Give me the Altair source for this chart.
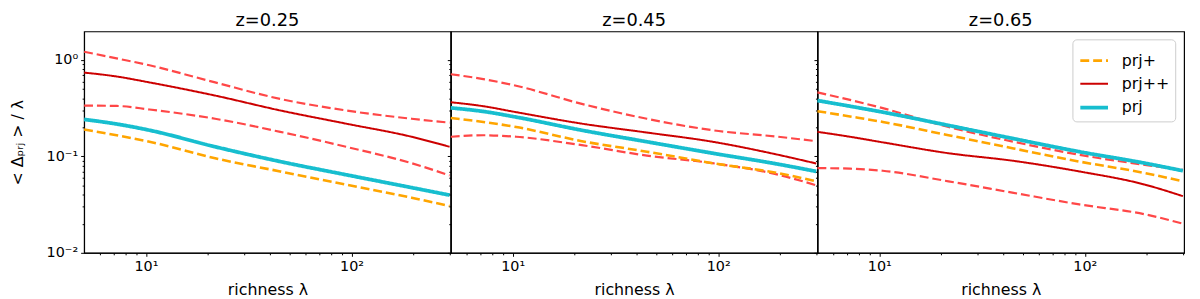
import altair as alt
import pandas as pd

# ---------------- data ----------------
X = [5, 7.2, 10.4, 21.7, 45, 94, 196, 300]
PANELS = ["z=0.25", "z=0.45", "z=0.65"]
SERIES = ["prj+", "prj++", "prj"]

# z = 0.25
P1_PRJ_PLUS = [0.19, 0.166, 0.142, 0.0958, 0.0699, 0.051, 0.0373, 0.0306]
P1_PRJ_PP = [0.741, 0.675, 0.586, 0.428, 0.30, 0.219, 0.16, 0.126]
P1_PRJ = [0.242, 0.217, 0.187, 0.126, 0.0885, 0.0646, 0.0475, 0.0397]
P1_PP_UP = [1.22, 1.04, 0.882, 0.586, 0.395, 0.30, 0.246, 0.224]
P1_PP_LO = [0.337, 0.334, 0.307, 0.246, 0.18, 0.126, 0.0851, 0.0636]

# z = 0.45
P2_PRJ_PLUS = [0.25, 0.228, 0.202, 0.144, 0.112, 0.0851, 0.0672, 0.0552]
P2_PRJ_PP = [0.365, 0.332, 0.288, 0.219, 0.177, 0.142, 0.104, 0.0845]
P2_PRJ = [0.319, 0.293, 0.256, 0.187, 0.142, 0.108, 0.0831, 0.0699]
P2_PP_UP = [0.713, 0.634, 0.541, 0.351, 0.246, 0.187, 0.16, 0.144]
P2_PP_LO = [0.16, 0.166, 0.16, 0.131, 0.102, 0.0851, 0.0646, 0.0502]

# z = 0.65
P3_PRJ_PLUS = [0.295, 0.26, 0.228, 0.166, 0.121, 0.0885, 0.0672, 0.0552]
P3_PRJ_PP = [0.18, 0.16, 0.14, 0.108, 0.09, 0.0699, 0.051, 0.0387]
P3_PRJ = [0.38, 0.332, 0.288, 0.21, 0.153, 0.112, 0.0851, 0.071]
P3_PP_UP = [0.462, 0.386, 0.317, 0.202, 0.142, 0.104, 0.0818, 0.0727]
P3_PP_LO = [0.0757, 0.0747, 0.071, 0.0552, 0.0419, 0.0318, 0.0251, 0.0201]

X_TICKS = [6, 7, 8, 9, 10, 20, 30, 40, 50, 60, 70, 80, 90, 100, 200, 300]
Y_TICKS = [0.01, 0.02, 0.03, 0.04, 0.05, 0.06, 0.07, 0.08, 0.09,
           0.1, 0.2, 0.3, 0.4, 0.5, 0.6, 0.7, 0.8, 0.9, 1]

MAIN = {
    "z=0.25": {"prj+": P1_PRJ_PLUS, "prj++": P1_PRJ_PP, "prj": P1_PRJ},
    "z=0.45": {"prj+": P2_PRJ_PLUS, "prj++": P2_PRJ_PP, "prj": P2_PRJ},
    "z=0.65": {"prj+": P3_PRJ_PLUS, "prj++": P3_PRJ_PP, "prj": P3_PRJ},
}
BOUNDS = {
    "z=0.25": {"upper": P1_PP_UP, "lower": P1_PP_LO},
    "z=0.45": {"upper": P2_PP_UP, "lower": P2_PP_LO},
    "z=0.65": {"upper": P3_PP_UP, "lower": P3_PP_LO},
}

main_rows = []
for p, d in MAIN.items():
    for s, vals in d.items():
        for xv, yv in zip(X, vals):
            main_rows.append({"panel": p, "series": s, "x": xv, "y": yv})
bound_rows = []
for p, d in BOUNDS.items():
    for s, vals in d.items():
        for xv, yv in zip(X, vals):
            bound_rows.append({"panel": p, "bound": s, "x": xv, "y": yv})
main_df = pd.DataFrame(main_rows)
bound_df = pd.DataFrame(bound_rows)

FONT = "DejaVu Sans"

x_label_expr = "datum.value == 10 ? '10\u00b9' : datum.value == 100 ? '10\u00b2' : ''"
y_label_expr = ("datum.value == 1 ? '10\u2070' : datum.value == 0.1 ? '10\u207b\u00b9' : "
                "datum.value == 0.01 ? '10\u207b\u00b2' : ''")
x_major = "datum.value == 10 || datum.value == 100"
y_major = "datum.value == 1 || datum.value == 0.1 || datum.value == 0.01"


def panel(name, first, last):
    xenc = alt.X(
        "x:Q",
        scale=alt.Scale(type="log", domain=[5, 304], nice=False),
        axis=alt.Axis(
            values=X_TICKS, labelExpr=x_label_expr, labelOverlap=False,
            tickSize={"condition": {"test": x_major, "value": 3.5}, "value": 2},
            title="richness \u03bb", grid=False, labelFontSize=14.5, titleFontSize=16,
            labelPadding=3, titlePadding=9,
        ),
    )
    yaxis = alt.Axis(
        values=Y_TICKS, labelExpr=y_label_expr, labelOverlap=False,
        tickSize={"condition": {"test": y_major, "value": 3.5}, "value": 2},
        title="< \u0394\u209a\u1d63\u2c7c > / \u03bb" if first else None,
        labels=first, grid=False, labelFontSize=14.5, titleFontSize=16,
        labelPadding=3, titlePadding=21,
    )
    yenc = alt.Y("y:Q", scale=alt.Scale(type="log", domain=[0.01, 1.98], nice=False), axis=yaxis)

    bounds = (
        alt.Chart(bound_df[bound_df.panel == name])
        .mark_line(interpolate="monotone", color="#ff4747", strokeWidth=2.2, strokeDash=[9, 4])
        .encode(x=xenc, y=yenc, detail="bound:N")
    )
    legend = (
        alt.Legend(
            orient="none", legendX=258, legendY=8, title=None, fillColor="white",
            strokeColor="#cccccc", cornerRadius=4, padding=6, labelFontSize=16,
            labelFont=FONT, symbolType="stroke", symbolSize=784, rowPadding=0,
            labelOffset=12, labelColor="black",
        )
        if last else None
    )
    lines = (
        alt.Chart(main_df[main_df.panel == name])
        .mark_line(interpolate="monotone")
        .encode(
            x=xenc, y=yenc,
            color=alt.Color("series:N", scale=alt.Scale(domain=SERIES, range=["#ffa500", "#cc0000", "#17becf"]), legend=legend),
            strokeDash=alt.StrokeDash("series:N", scale=alt.Scale(domain=SERIES, range=[[9, 4], [1, 0], [1, 0]]), legend=legend),
            strokeWidth=alt.StrokeWidth("series:N", scale=alt.Scale(type="ordinal", domain=SERIES, range=[2.6, 2.0, 3.8]), legend=legend),
        )
    )
    return alt.layer(bounds, lines).properties(
        width=371, height=224,
        title=alt.TitleParams(text=name, fontSize=18, fontWeight="normal", font=FONT, offset=2, color="black"),
    )


chart = (
    alt.hconcat(*[panel(p, i == 0, i == 2) for i, p in enumerate(PANELS)], spacing=0, bounds="flush")
    .resolve_scale(color="independent", strokeDash="independent", strokeWidth="independent")
    .properties(padding={"left": 0, "top": 1, "right": 0, "bottom": 0})
    .configure_view(stroke="black", strokeWidth=1.2)
    .configure_axis(domainColor="black", tickColor="black", labelColor="black",
                    titleColor="black", labelFont=FONT, titleFont=FONT, titleFontWeight="normal")
)

chart.save("out.html", embed_options={"renderer": "svg", "actions": False})
